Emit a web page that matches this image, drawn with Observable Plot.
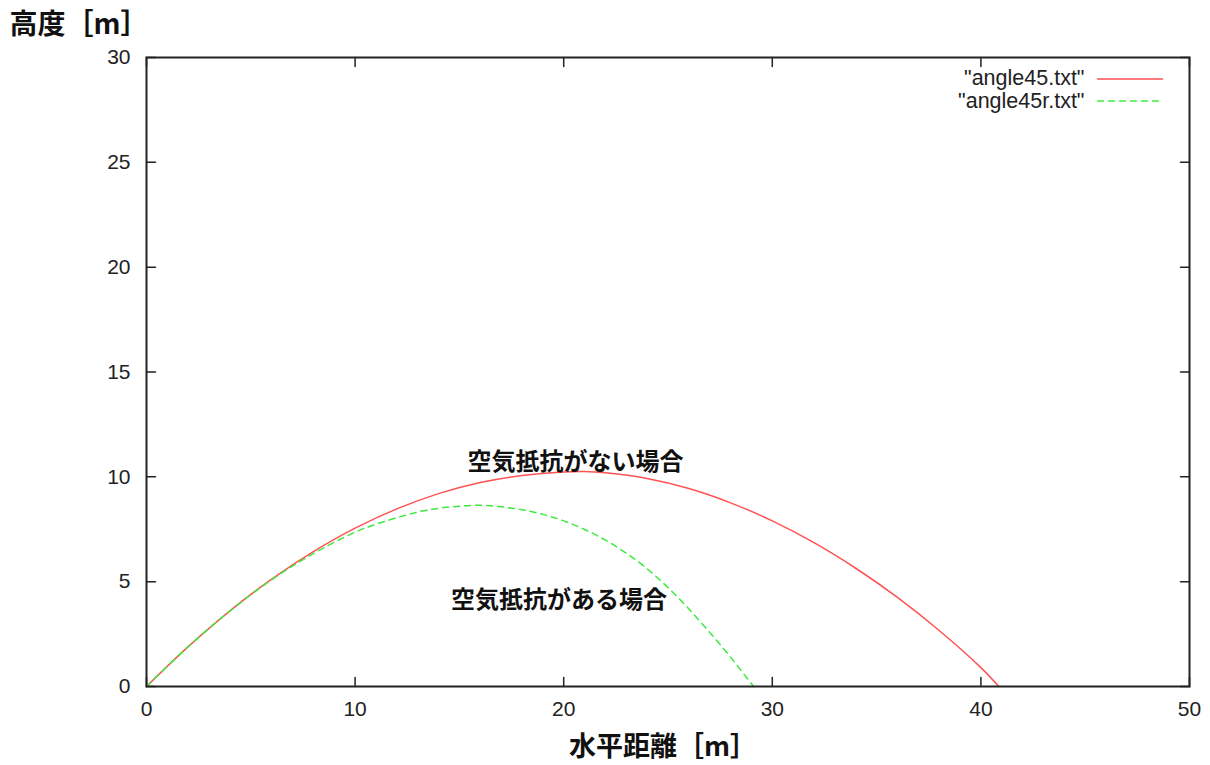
<!DOCTYPE html>
<html>
<head>
<meta charset="utf-8">
<script src="https://cdn.jsdelivr.net/npm/d3@7"></script>
<script src="https://cdn.jsdelivr.net/npm/@observablehq/plot@0.6"></script>
<style>
  html, body { margin: 0; padding: 0; background: #fff; }
  #chart svg { display: block; }
</style>
</head>
<body>
<div id="chart"></div>
<script>
// ---- data ----
const xDomain = [0, 50];
const yDomain = [0, 30];
const xTicks = [0, 10, 20, 30, 40, 50];
const yTicks = [0, 5, 10, 15, 20, 25, 30];

const seriesNames = ['"angle45.txt"', '"angle45r.txt"'];
const seriesColors = ["#ff5252", "#3fea3f"];

// no air resistance (red)
const noAirX = [0, 2, 4, 6, 8, 10, 12, 14, 16, 18, 20, 21, 22, 24, 26, 28, 30, 32, 34, 36, 38, 40, 40.86];
const noAirY = [0, 1.90, 3.61, 5.12, 6.43, 7.55, 8.47, 9.20, 9.73, 10.06, 10.23, 10.25, 10.19, 9.92, 9.44, 8.76, 7.90, 6.86, 5.64, 4.25, 2.67, 0.90, 0];

// with air resistance (green, dashed)
const airX = [0, 2, 4, 6, 8, 10, 11, 12, 13, 14, 15, 16, 17, 18, 19, 20, 21, 22, 23, 24, 25, 26, 27, 28, 29, 29.11];
const airY = [0, 1.90, 3.60, 5.09, 6.34, 7.36, 7.74, 8.05, 8.32, 8.50, 8.60, 8.64, 8.57, 8.43, 8.21, 7.90, 7.49, 6.98, 6.36, 5.61, 4.72, 3.70, 2.58, 1.40, 0.13, 0];

const annoText = ["空気抵抗がない場合", "空気抵抗がある場合"];
const annoX = [20.57, 19.78];
const annoY = [10.69, 4.10];

const yTitle = "高度［m］";
const xTitle = "水平距離［m］";

// ---- tables built from the arrays ----
const noAir = noAirX.map((x, i) => ({x, y: noAirY[i]}));
const air = airX.map((x, i) => ({x, y: airY[i]}));
const annos = annoText.map((t, i) => ({t, x: annoX[i], y: annoY[i]}));

const lineShape = {draw(ctx, l) { ctx.moveTo(0, 0); ctx.lineTo(0, -l); }};
const tickStyle = {length: 9, anchor: "start", shape: lineShape, stroke: "#222", strokeWidth: 1.5};
const cjk = "'Noto Sans CJK JP', 'Noto Sans', sans-serif";

const legendMarks = seriesNames.flatMap((name, i) => [
  Plot.text([name], {frameAnchor: "top-right", text: d => d, textAnchor: "end", lineAnchor: "middle",
    dx: -105, dy: 21 + 22.5 * i, fontSize: 21.5, fill: "#222"}),
  Plot.vector([name], {frameAnchor: "top-right", dx: -27, dy: 21.5 + 22 * i, rotate: 90, anchor: "end",
    length: 65, shape: lineShape, stroke: seriesColors[i], strokeWidth: 1.5,
    strokeDasharray: i === 1 ? "6,5" : null})
]);

const chart = Plot.plot({
  width: 1210,
  height: 765,
  marginLeft: 146,
  marginRight: 21,
  marginTop: 57,
  marginBottom: 79,
  x: {domain: xDomain},
  y: {domain: yDomain},
  style: {fontFamily: "'Liberation Sans', Arial, sans-serif", fontSize: "21px", background: "#fff", color: "#222"},
  marks: [
    Plot.axisX(xTicks, {anchor: "bottom", tickSize: 0, tickPadding: 15, label: null, fontSize: 21}),
    Plot.axisY(yTicks, {anchor: "left", tickSize: 0, tickPadding: 16, label: null, fontSize: 21}),
    // inward ticks on all four sides
    Plot.vector(xTicks, {x: d => d, y: () => yDomain[0], rotate: 0, ...tickStyle}),
    Plot.vector(xTicks, {x: d => d, y: () => yDomain[1], rotate: 180, ...tickStyle}),
    Plot.vector(yTicks, {y: d => d, x: () => xDomain[0], rotate: 90, ...tickStyle}),
    Plot.vector(yTicks, {y: d => d, x: () => xDomain[1], rotate: -90, ...tickStyle}),
    Plot.line(noAir, {x: "x", y: "y", stroke: seriesColors[0], strokeWidth: 1.5, curve: "catmull-rom"}),
    Plot.line(air, {x: "x", y: "y", stroke: seriesColors[1], strokeWidth: 1.5, strokeDasharray: "6,5", curve: "catmull-rom"}),
    Plot.text(annos, {x: "x", y: "y", text: "t", fontFamily: cjk, fontWeight: "bold", fontSize: 24, fill: "#111"}),
    ...legendMarks,
    Plot.text([yTitle], {frameAnchor: "top-left", text: d => d, textAnchor: "start", lineAnchor: "middle",
      dx: -137, dy: -32, fontFamily: cjk, fontWeight: "bold", fontSize: 28, fill: "#111"}),
    Plot.text([xTitle], {frameAnchor: "bottom", text: d => d, textAnchor: "middle", lineAnchor: "middle",
      dx: -5, dy: 61, fontFamily: cjk, fontWeight: "bold", fontSize: 27, fill: "#111"}),
    Plot.frame({stroke: "#222", strokeWidth: 2})
  ]
});
document.getElementById("chart").appendChild(chart);
</script>
</body>
</html>
